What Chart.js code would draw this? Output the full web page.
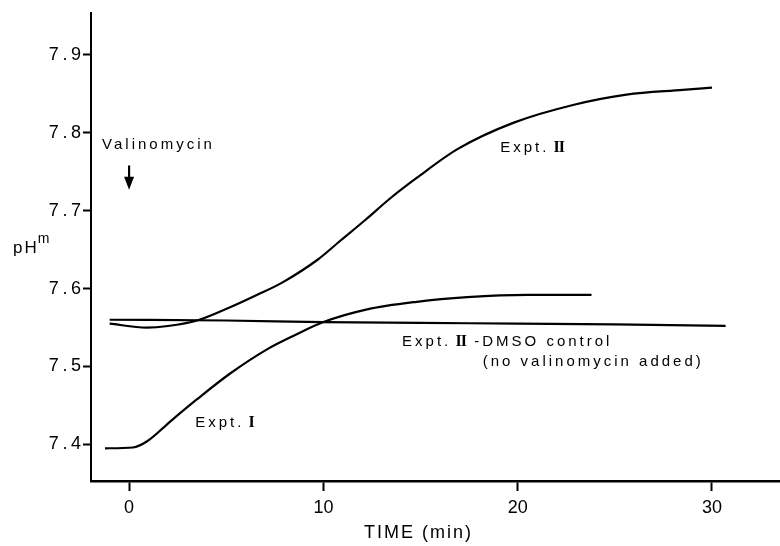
<!DOCTYPE html>
<html>
<head>
<meta charset="utf-8">
<script src="https://cdn.jsdelivr.net/npm/chart.js@4.4.1/dist/chart.umd.min.js"></script>
<style>
  html, body { margin: 0; padding: 0; background: #fff; }
</style>
</head>
<body>
<canvas id="phChart" width="780" height="546"></canvas>
<script>
// values (time in min, internal pH)
var exptOneTime = [-1.24, 0.2, 0.93, 2.1, 3.5, 5.2, 7.1, 8.6, 10.0, 12.2, 14.8, 17.4, 20.5, 23.8];
var exptOnePh   = [7.395, 7.396, 7.404, 7.429, 7.458, 7.491, 7.522, 7.541, 7.557, 7.573, 7.583, 7.589, 7.592, 7.592];

var exptTwoTime = [-1.0, 0.9, 2.0, 3.5, 5.2, 6.6, 7.9, 9.7, 10.9, 12.2, 13.4, 14.8, 16.9, 19.8, 22.9, 25.6, 28.5, 30.0];
var exptTwoPh   = [7.555, 7.550, 7.552, 7.559, 7.576, 7.592, 7.608, 7.637, 7.662, 7.689, 7.715, 7.742, 7.779, 7.813, 7.836, 7.849, 7.855, 7.858];

var dmsoTime = [-1.0, 5.0, 10.0, 15.0, 20.0, 25.0, 30.7];
var dmsoPh   = [7.560, 7.559, 7.557, 7.556, 7.555, 7.554, 7.552];

var timeTicks = [0, 10, 20, 30];
var phTicks = [7.4, 7.5, 7.6, 7.7, 7.8, 7.9];

function toPoints(xs, ys) {
    return xs.map(function (x, i) { return { x: x, y: ys[i] }; });
}

var ink = '#000';
var sans = '"Liberation Sans", Arial, Helvetica, sans-serif';
var serif = '"Liberation Serif", "Times New Roman", serif';

// text written on the plot, anchored in data units
var notes = [
    { at: [-1.39, 7.785], parts: [['Valinomycin', '15px ' + sans, 3]] },
    { at: [19.1, 7.780], parts: [['Expt.', '15px ' + sans, 3], [' ', '15px ' + sans, 0], ['II', 'bold 16px ' + serif, -1]] },
    { at: [3.4, 7.428], parts: [['Expt.', '15px ' + sans, 3], [' ', '15px ' + sans, 0], ['I', 'bold 16px ' + serif, 0]] },
    { at: [14.05, 7.532], parts: [['Expt.', '15px ' + sans, 3], [' ', '15px ' + sans, 0], ['II', 'bold 16px ' + serif, -1], ['  ', '15px ' + sans, 0], ['-DMSO control', '15px ' + sans, 3]] },
    { at: [18.2, 7.506], parts: [['(no valinomycin added)', '15px ' + sans, 3]] }
];

var notesPlugin = {
    id: 'notes',
    afterDraw: function (chart) {
        var ctx = chart.ctx;
        var xs = chart.scales.x, ys = chart.scales.y;
        ctx.save();
        ctx.fillStyle = ink;
        ctx.strokeStyle = ink;
        ctx.textBaseline = 'middle';
        ctx.textAlign = 'left';

        notes.forEach(function (n) {
            var px = xs.getPixelForValue(n.at[0]);
            var py = ys.getPixelForValue(n.at[1]);
            n.parts.forEach(function (p) {
                ctx.font = p[1];
                ctx.letterSpacing = p[2] + 'px';
                ctx.fillText(p[0], px, py);
                px += ctx.measureText(p[0]).width;
            });
        });

        // arrow marking valinomycin addition at t = 0
        var ax = xs.getPixelForValue(0);
        var top = ys.getPixelForValue(7.758);
        var tip = ys.getPixelForValue(7.727);
        ctx.lineWidth = 2.2;
        ctx.beginPath();
        ctx.moveTo(ax, top);
        ctx.lineTo(ax, tip - 8);
        ctx.stroke();
        ctx.beginPath();
        ctx.moveTo(ax - 5, tip - 13);
        ctx.lineTo(ax + 5, tip - 13);
        ctx.lineTo(ax, tip);
        ctx.closePath();
        ctx.fill();

        // y axis label pH^m
        var ly = ys.getPixelForValue(7.652);
        ctx.font = '17px ' + sans;
        ctx.letterSpacing = '2px';
        ctx.fillText('pH', 13, ly);
        var w = ctx.measureText('pH').width;
        ctx.font = '14px ' + sans;
        ctx.letterSpacing = '0px';
        ctx.fillText('m', 12 + w, ly - 9);

        // x axis label
        ctx.font = '18px ' + sans;
        ctx.letterSpacing = '2px';
        ctx.textAlign = 'center';
        ctx.fillText('TIME (min)', xs.getPixelForValue(14.9), xs.top + 52);
        ctx.restore();
    }
};

function lineSet(label, xs, ys) {
    return {
        label: label,
        data: toPoints(xs, ys),
        borderColor: ink,
        borderWidth: 2.2,
        pointRadius: 0,
        fill: false,
        cubicInterpolationMode: 'monotone'
    };
}

new Chart(document.getElementById('phChart'), {
    type: 'line',
    data: {
        datasets: [
            lineSet('Expt. I', exptOneTime, exptOnePh),
            lineSet('Expt. II', exptTwoTime, exptTwoPh),
            lineSet('Expt. II - DMSO control', dmsoTime, dmsoPh)
        ]
    },
    options: {
        responsive: false,
        animation: false,
        layout: { padding: { top: 10, left: 0, right: 0, bottom: 0 } },
        plugins: {
            legend: { display: false },
            tooltip: { enabled: false }
        },
        scales: {
            x: {
                type: 'linear',
                min: -1.96,
                max: 33.5,
                afterBuildTicks: function (scale) {
                    scale.ticks = timeTicks.map(function (v) { return { value: v }; });
                },
                afterFit: function (scale) { scale.height = 65; },
                grid: { drawOnChartArea: false, drawTicks: true, tickLength: 10, tickWidth: 2, tickColor: ink },
                border: { display: true, color: ink, width: 2.5 },
                ticks: {
                    color: ink,
                    padding: 6,
                    maxRotation: 0,
                    font: { family: sans, size: 18 }
                }
            },
            y: {
                min: 7.353,
                max: 7.954,
                afterBuildTicks: function (scale) {
                    scale.ticks = phTicks.map(function (v) { return { value: v }; });
                },
                afterFit: function (scale) { scale.width = 91; },
                grid: { drawOnChartArea: false, drawTicks: true, tickLength: 8, tickWidth: 2, tickColor: ink },
                border: { display: true, color: ink, width: 2 },
                ticks: {
                    color: ink,
                    padding: 2,
                    font: { family: sans, size: 18 },
                    callback: function (v) { return v.toFixed(1).split('').join('\u2009'); }
                }
            }
        }
    },
    plugins: [notesPlugin]
});
</script>
</body>
</html>
